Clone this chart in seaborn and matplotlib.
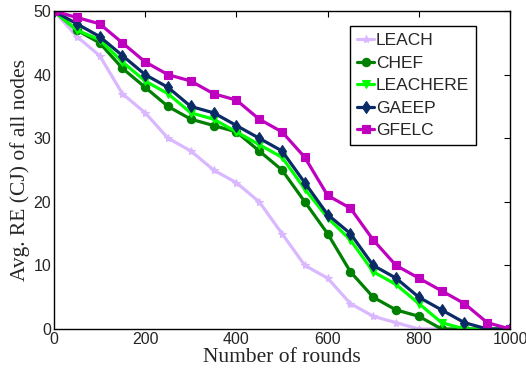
import numpy as np
import pandas as pd
import matplotlib
matplotlib.use("Agg")
import matplotlib.pyplot as plt
import seaborn as sns

rounds = [0, 50, 100, 150, 200, 250, 300, 350, 400, 450, 500,
          550, 600, 650, 700, 750, 800, 850, 900, 950, 1000]
leach    = [50, 46, 43, 37, 34, 30, 28, 25, 23, 20, 15, 10, 8, 4, 2, 1, 0, 0, 0, 0, 0]
chef     = [50, 47, 45, 41, 38, 35, 33, 32, 31, 28, 25, 20, 15, 9, 5, 3, 2, 0, 0, 0, 0]
leachere = [50, 47, 45.5, 42, 39, 37, 34, 33, 31, 29, 27, 22, 17.5, 14, 9, 7, 4, 1, 0, 0, 0]
gaeep    = [50, 48, 46, 43, 40, 38, 35, 34, 32, 30, 28, 23, 18, 15, 10, 8, 5, 3, 1, 0, 0]
gfelc    = [50, 49, 48, 45, 42, 40, 39, 37, 36, 33, 31, 27, 21, 19, 14, 10, 8, 6, 4, 1, 0]

series_names = ["LEACH", "CHEF", "LEACHERE", "GAEEP", "GFELC"]
series_vals = [leach, chef, leachere, gaeep, gfelc]

df = pd.concat([pd.DataFrame({"Rounds": rounds, "RE": v, "Protocol": n})
                for n, v in zip(series_names, series_vals)], ignore_index=True)

colors = {"LEACH": (0.85, 0.72, 1.0), "CHEF": (0.0, 0.5, 0.0),
          "LEACHERE": (0.0, 1.0, 0.0), "GAEEP": (0.04, 0.17, 0.40),
          "GFELC": (0.75, 0.0, 0.75)}
markers = {"LEACH": "*", "CHEF": "o", "LEACHERE": "v", "GAEEP": "d", "GFELC": "s"}

sns.set_style("white")
plt.rcParams['font.family'] = ['Liberation Sans', 'DejaVu Sans']

fig = plt.figure(figsize=(5.26, 3.76), dpi=100)
ax = fig.add_axes([0.1027, 0.125, 0.8669, 0.8455])

sns.lineplot(data=df, x="Rounds", y="RE", hue="Protocol", style="Protocol",
             hue_order=series_names, style_order=series_names,
             palette=colors, markers=markers, dashes=False,
             linewidth=2.3, markersize=6, markeredgewidth=0.8, ax=ax)
for line in ax.lines:
    line.set_markeredgecolor(line.get_color())

ax.set_xlim(0, 1000)
ax.set_ylim(0, 50)
ax.set_xticks([0, 200, 400, 600, 800, 1000])
ax.set_yticks([0, 10, 20, 30, 40, 50])
ax.tick_params(direction="in", top=True, right=True, length=4, width=0.8,
               labelsize=11.5, pad=2, color="black")
for s in ax.spines.values():
    s.set_color("black")
    s.set_linewidth(1.0)

ax.set_xlabel("Number of rounds", family=["Liberation Serif"], fontsize=15.5, labelpad=1)
ax.set_ylabel("Avg. RE (CJ) of all nodes", family=["Liberation Serif"], fontsize=15.5)
ax.yaxis.set_label_coords(-0.052, 0.5)

leg = ax.legend(loc="upper left", bbox_to_anchor=(0.649, 0.952), fontsize=12.5,
                frameon=True, fancybox=False, edgecolor="black", framealpha=1,
                handlelength=1.0, handletextpad=0.1, borderpad=0.4,
                labelspacing=0.42, borderaxespad=0)
leg.get_frame().set_linewidth(1.0)

fig.savefig("out.png", dpi=100)
